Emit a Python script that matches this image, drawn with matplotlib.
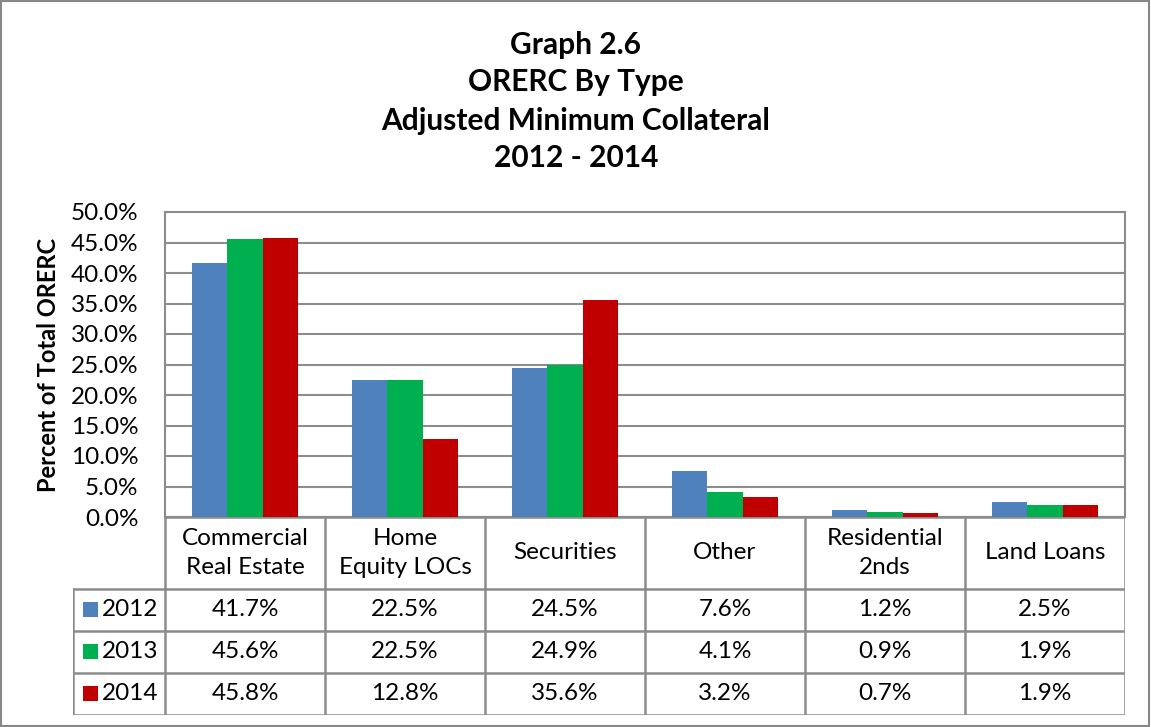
import numpy as np
import matplotlib.pyplot as plt
from matplotlib.patches import Rectangle

plt.rcParams['font.family'] = ['Lato', 'DejaVu Sans']

# Data
categories = ["Commercial\nReal Estate", "Home\nEquity LOCs", "Securities",
              "Other", "Residential\n2nds", "Land Loans"]
years = ["2012", "2013", "2014"]
v2012 = [41.7, 22.5, 24.5, 7.6, 1.2, 2.5]
v2013 = [45.6, 22.5, 24.9, 4.1, 0.9, 1.9]
v2014 = [45.8, 12.8, 35.6, 3.2, 0.7, 1.9]
series = [v2012, v2013, v2014]
colors = ["#4F81BD", "#00B050", "#C00000"]
yticks = np.arange(0, 50.1, 5)

W, H = 1151, 727
fig = plt.figure(figsize=(W / 100, H / 100), dpi=100)
fig.patches.append(Rectangle((0.001, 0.001), 0.997, 0.997, transform=fig.transFigure,
                             fill=False, edgecolor="#888888", lw=1.5))

def box(x0, y0, x1, y1):
    return [x0 / W, 1 - y1 / H, (x1 - x0) / W, (y1 - y0) / H]

grid_col = "#8c8c8c"
fs = 17.5

# Bar chart
ax = fig.add_axes(box(165, 212, 1125, 517))
x = np.arange(len(categories))
bw = 0.22
for i, (vals, c) in enumerate(zip(series, colors)):
    ax.bar(x + (i - 1) * bw, vals, width=bw, color=c, zorder=3)
ax.set_xlim(-0.5, len(categories) - 0.5)
ax.set_ylim(0, 50)
ax.set_yticks(yticks)
ax.set_yticklabels([f"{t:.1f}%" for t in yticks], fontsize=fs)
ax.set_xticks([])
ax.tick_params(axis="y", length=0, pad=19)
ax.grid(axis="y", color=grid_col, lw=1.5, zorder=0)
for s in ax.spines.values():
    s.set_color(grid_col)
    s.set_linewidth(1.5)
ax.set_ylabel("Percent of Total ORERC", fontsize=17, fontweight="bold", labelpad=8)

titles = ["Graph 2.6", "ORERC By Type", "Adjusted Minimum Collateral", "2012 - 2014"]
for t, yy in zip(titles, [45, 82, 121, 158]):
    fig.text(576 / W, 1 - yy / H, t, ha="center", va="center", fontsize=21.5, fontweight="bold")

# Data table
legw = 92 / 160
tax = fig.add_axes(box(73, 517, 1125, 715))
tax.set_xlim(-0.5 - legw, len(categories) - 0.5)
tax.set_ylim(715, 517)
tax.axis("off")
rows = [517, 589, 631, 673, 715]
lk = dict(color=grid_col, lw=1.8, solid_capstyle="projecting")
# horizontal lines
tax.plot([-0.5, len(categories) - 0.5], [rows[0], rows[0]], **lk)
for r in rows[1:]:
    tax.plot([-0.5 - legw, len(categories) - 0.5], [r, r], **lk)
# vertical lines
tax.plot([-0.5 - legw, -0.5 - legw], [rows[1], rows[-1]], **lk)
for k in range(len(categories) + 1):
    tax.plot([k - 0.5, k - 0.5], [rows[0], rows[-1]], **lk)

for k, cat in enumerate(categories):
    tax.text(k, (rows[0] + rows[1]) / 2, cat, ha="center", va="center",
             fontsize=fs, linespacing=1.45)
for j, (yr, vals, c) in enumerate(zip(years, series, colors)):
    yc = (rows[j + 1] + rows[j + 2]) / 2
    tax.bar(-0.5 - legw + 10 / 160, 15, width=15 / 160, bottom=yc - 7.5, color=c, align="edge")
    tax.text(-0.5 - legw + 29 / 160, yc, yr, ha="left", va="center", fontsize=fs)
    for k, v in enumerate(vals):
        tax.text(k, yc, f"{v:.1f}%", ha="center", va="center", fontsize=fs)

fig.savefig("out.png", dpi=100)
